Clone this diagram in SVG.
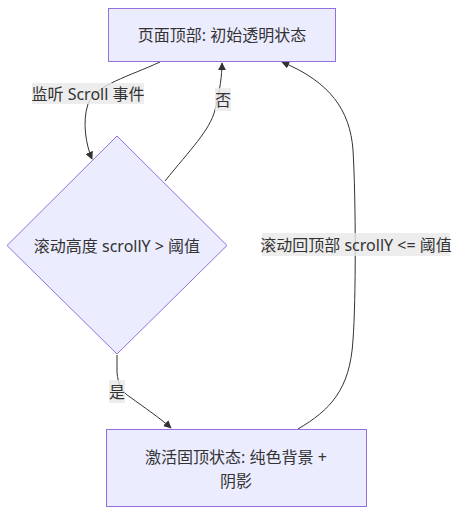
<svg xmlns="http://www.w3.org/2000/svg" width="459" height="515" viewBox="0 0 459 515">
<style>
.node{fill:#ECECFF;stroke:#9370DB;stroke-width:1}
.t{font-family:"Noto Sans","Noto Sans CJK SC",sans-serif;font-size:16px;fill:#333;text-anchor:middle;dominant-baseline:central}
.edge{fill:none;stroke:#333;stroke-width:1}
.lbl{fill:#e8e8e8;fill-opacity:0.8}
</style>
<defs>
<marker id="arr" viewBox="0 0 10 10" refX="9" refY="5" markerWidth="8" markerHeight="8" orient="auto" markerUnits="userSpaceOnUse">
<path d="M0,0 L10,5 L0,10 z" fill="#333"/>
</marker>
</defs>
<rect width="459" height="515" fill="#fff"/>
<g id="edges">
<path class="edge" d="M160,62 C130,76 95,85 88,104 C82,122 86,145 92,159" marker-end="url(#arr)"/>
<path class="edge" d="M165,181 C190,150 210,130 215,110 C220,90 222,75 222,63" marker-end="url(#arr)"/>
<path class="edge" d="M117,355 L117,372 C118,385 122,392 130,397 C145,408 160,418 171,428" marker-end="url(#arr)"/>
<path class="edge" d="M298,429 C330,410 350,390 353,340 C356,300 356,200 353,150 C350,110 330,82 282,62" marker-end="url(#arr)"/>
</g>
<g id="edge-labels">
<rect class="lbl" x="32" y="83" width="112" height="21"/>
<text class="t" x="88" y="94">监听 Scroll 事件</text>
<rect class="lbl" x="215" y="88" width="16" height="23"/>
<text class="t" x="223" y="99.5">否</text>
<rect class="lbl" x="109" y="380" width="16" height="23"/>
<text class="t" x="117" y="391.5">是</text>
<rect class="lbl" x="262" y="233" width="188" height="23"/>
<text class="t" x="356" y="244.5">滚动回顶部 scrollY &lt;= 阈值</text>
</g>
<g id="top">
<rect class="node" x="108.5" y="8.5" width="227" height="53"/>
<text class="t" x="222" y="35">页面顶部: 初始透明状态</text>
</g>
<g id="decision">
<polygon class="node" points="117,136 227,245.5 117,354 7,245.5"/>
<text class="t" x="117" y="245.5">滚动高度 scrollY &gt; 阈值</text>
</g>
<g id="sticky">
<rect class="node" x="106.5" y="429.5" width="260" height="77"/>
<text class="t" x="236" y="456.5">激活固顶状态: 纯色背景 +</text>
<text class="t" x="236" y="480.5">阴影</text>
</g>
</svg>
